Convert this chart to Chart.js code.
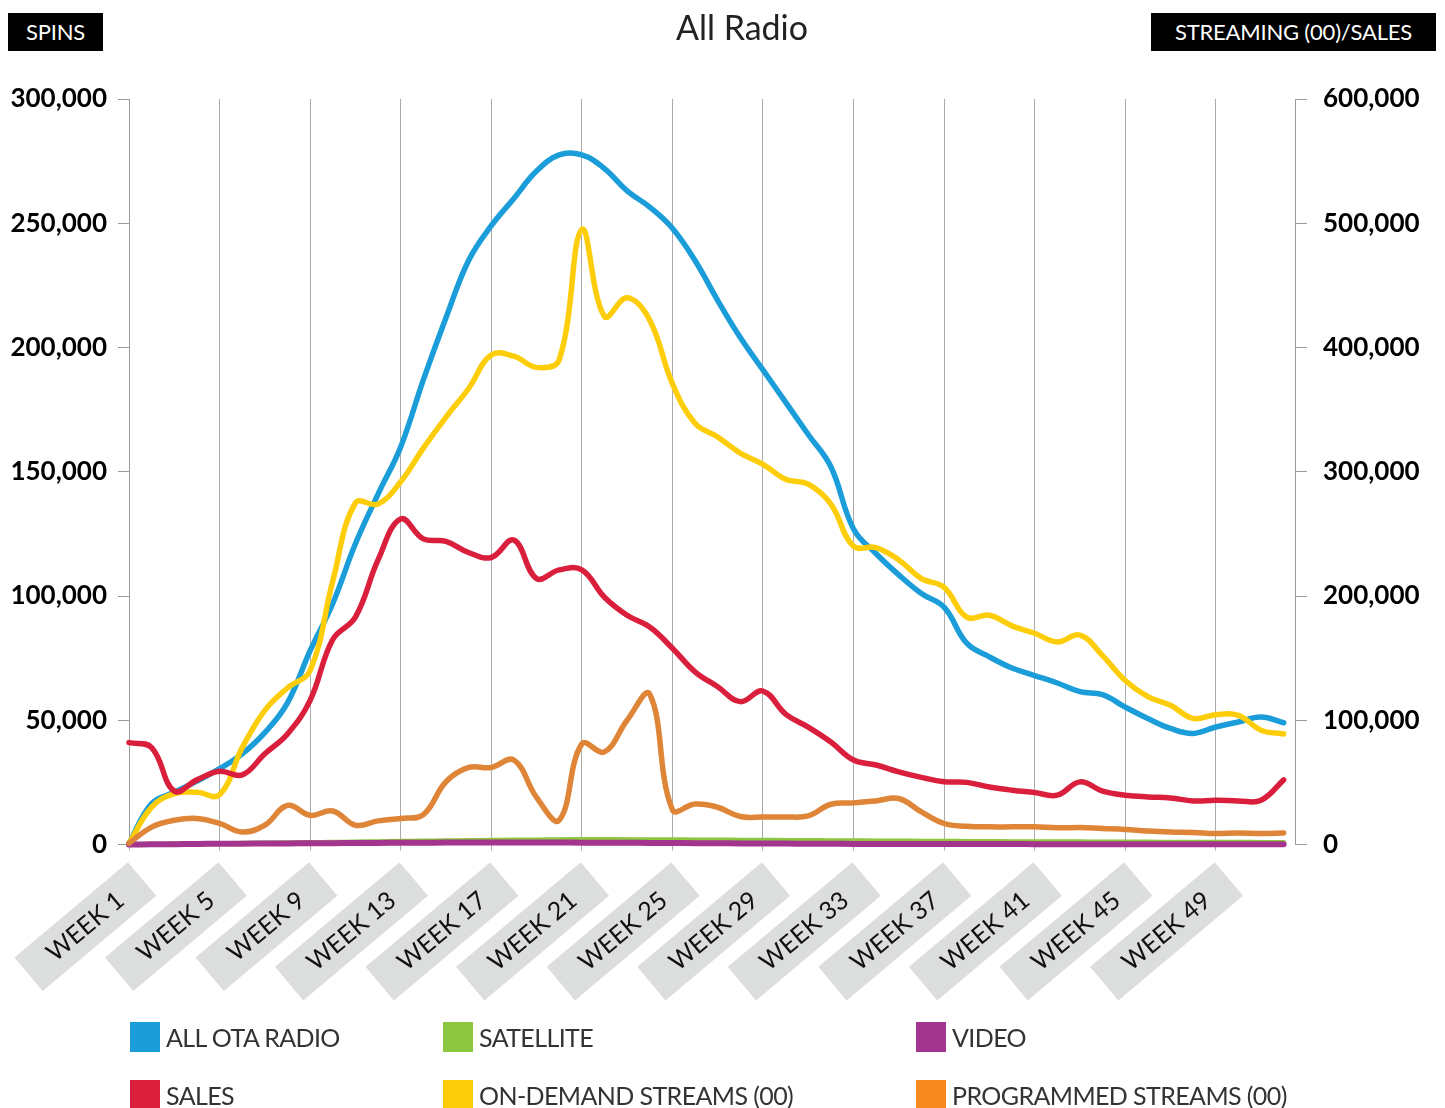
<!DOCTYPE html>
<html>
<head>
<meta charset="utf-8">
<script src="https://cdn.jsdelivr.net/npm/chart.js@4.4.0/dist/chart.umd.min.js"></script>
<style>
  html, body { margin: 0; padding: 0; background: #fff; }
  #wrap { position: relative; width: 1445px; height: 1108px; overflow: hidden; font-family: Lato, sans-serif; }
  canvas { position: absolute; left: 0; top: 0; }
  .tag { position: absolute; background: #000; color: #fff; font-size: 22px; line-height: 38px; height: 38px; text-align: center; letter-spacing: -0.2px; }
  #title { position: absolute; top: 6px; left: 592px; width: 300px; text-align: center; font-size: 34px; line-height: 42px; color: #222; }
  .li { position: absolute; height: 30px; display: flex; align-items: center; white-space: nowrap; }
  .sw { width: 30px; height: 30px; margin-right: 6px; flex: none; }
  .lt { font-size: 25px; color: #333; letter-spacing: -0.6px; }
</style>
</head>
<body>
<div id="wrap">
  <canvas id="c" width="1445" height="1108"></canvas>
  <div class="tag" style="left:8px;top:13px;width:95px;">SPINS</div>
  <div class="tag" style="left:1151px;top:13px;width:285px;">STREAMING (00)/SALES</div>
  <div id="title">All Radio</div>
  <div id="legend"></div>
</div>
<script>
// ---- categories ----
const weeks = [1,2,3,4,5,6,7,8,9,10,11,12,13,14,15,16,17,18,19,20,21,22,23,24,25,26,
               27,28,29,30,31,32,33,34,35,36,37,38,39,40,41,42,43,44,45,46,47,48,49,50,51,52];
const weekTickValues = [1,5,9,13,17,21,25,29,33,37,41,45,49];
const weekTickLabels = ['WEEK 1','WEEK 5','WEEK 9','WEEK 13','WEEK 17','WEEK 21','WEEK 25',
                        'WEEK 29','WEEK 33','WEEK 37','WEEK 41','WEEK 45','WEEK 49'];

// ---- spins (left axis) ----
const allOtaRadio = [500,16500,21000,25500,30500,36500,45000,57000,78000,97000,121000,141000,160000,
  187000,212000,235000,249000,260000,271000,277500,277500,272000,263000,256500,248000,235000,
  219000,204000,191000,178000,165000,152000,127000,117000,108500,101000,95500,81000,75500,
  71000,68000,65000,61500,60300,55300,50700,46700,44700,47300,49300,51300,49000];
const satellite = [0,100,200,300,400,500,600,700,800,900,1000,1150,1300,1400,1500,1600,1700,1780,
  1850,1920,2000,1980,1950,1920,1900,1850,1800,1750,1700,1650,1600,1550,1500,1450,1400,1350,
  1300,1250,1200,1150,1100,1080,1060,1040,1000,970,940,920,900,870,840,800];
const video = [0,80,150,220,300,350,400,450,500,550,600,650,700,730,760,780,800,790,780,770,750,
  720,690,650,600,550,500,450,400,360,320,280,250,240,230,210,200,190,170,160,150,140,130,125,
  120,115,110,105,100,100,100,100];

// ---- streaming (00) / sales (right axis) ----
const sales = [82000,78000,43000,52000,59000,56000,73000,89000,116000,165000,183000,229000,262000,
  246000,244000,235000,231000,245000,214000,221000,221000,199000,184500,175000,158000,139000,
  127000,115000,123500,105000,94500,82500,68000,64000,58500,54000,50500,50000,46300,43700,
  41800,39700,50400,43000,39700,38300,37500,35100,35600,35100,35600,52000];
const onDemandStreams = [1000,30000,41000,42000,40000,78000,108000,126000,140000,212000,275000,274000,
  292000,319000,344000,367000,394000,393000,384000,390000,495000,425000,440000,422000,371000,
  339000,328000,315000,306000,294000,290000,274000,240000,239000,229000,214000,207000,183000,
  184500,176000,170000,163000,168500,152000,132000,119000,112000,101500,104500,104000,92000,89000];
const programmedStreams = [1000,14000,19500,21000,17000,10000,15500,31500,23500,27000,15500,19000,
  21000,24000,50500,62000,62000,68000,38000,19500,81000,74500,100000,121000,28000,32500,30000,
  22500,22200,22200,23000,32400,33500,35100,37000,26200,16900,14700,14200,14200,14200,13400,
  13700,12900,12100,10900,10100,9700,8800,9300,8800,9300];

function series(label, data, lineColor, swatchColor, axis, order, width) {
  return {
    label, data, yAxisID: axis, order,
    borderColor: lineColor, backgroundColor: swatchColor,
    borderWidth: width, pointRadius: 0, pointHoverRadius: 0, tension: 0.4,
    borderCapStyle: 'round', borderJoinStyle: 'round', fill: false, clip: false
  };
}

const datasets = [
  series('ALL OTA RADIO', allOtaRadio, '#1b9dd9', '#1b9dd9', 'y', 6, 5.5),
  series('SATELLITE', satellite, '#8dc63f', '#8dc63f', 'y', 5, 5),
  series('VIDEO', video, '#a3358f', '#a3358f', 'y', 3, 6),
  series('SALES', sales, '#da1f3d', '#da1f3d', 'y2', 2, 5.5),
  series('ON-DEMAND STREAMS (00)', onDemandStreams, '#fecd0a', '#fecd0a', 'y2', 4, 5.5),
  series('PROGRAMMED STREAMS (00)', programmedStreams, '#df8538', '#f6891f', 'y2', 1, 5.5)
];

const CHART_BOTTOM = 844.5;
const fmt = v => Number(v).toLocaleString('en-US');

const chart = new Chart(document.getElementById('c'), {
  type: 'line',
  data: { labels: weeks, datasets },
  options: {
    responsive: false,
    animation: false,
    devicePixelRatio: 1,
    layout: { padding: { top: 99, left: 0, right: 0, bottom: 0 } },
    plugins: { legend: { display: false }, tooltip: { enabled: false }, title: { display: false } },
    scales: {
      x: {
        type: 'linear', min: 1, max: 52.5,
        afterBuildTicks: s => { s.ticks = weekTickValues.map(v => ({ value: v })); },
        afterFit: s => { s.height = 1108 - CHART_BOTTOM; s.paddingLeft = 0; s.paddingRight = 0; },
        grid: { color: '#ababab', lineWidth: 1, drawTicks: true, tickLength: 6, tickColor: '#ababab' },
        border: { display: false },
        ticks: {
          autoSkip: false, minRotation: 40, maxRotation: 40,
          labelOffset: -18, padding: 35,
          font: { family: 'Lato', size: 25 }, color: '#111',
          showLabelBackdrop: true, backdropColor: '#dcdddd',
          backdropPadding: { top: 7, bottom: 7, left: 28, right: 28 },
          callback: (v, i) => weekTickLabels[i]
        }
      },
      y: {
        position: 'left', min: 0, max: 300000,
        afterFit: s => { s.width = 129; },
        grid: { drawOnChartArea: false, drawTicks: true, tickLength: 11, color: '#9a9a9a' },
        border: { display: true, color: '#9a9a9a', width: 1 },
        ticks: { stepSize: 50000, padding: 11, color: '#000',
                 font: { family: 'Lato', size: 26, weight: 'bold' }, callback: fmt }
      },
      y2: {
        position: 'right', min: 0, max: 600000,
        afterFit: s => { s.width = 150; },
        grid: { drawOnChartArea: false, drawTicks: true, tickLength: 12, color: '#9a9a9a' },
        border: { display: true, color: '#9a9a9a', width: 1 },
        ticks: { stepSize: 100000, padding: 16, color: '#000',
                 font: { family: 'Lato', size: 26, weight: 'bold' }, callback: fmt }
      }
    }
  }
});

// HTML legend built from the chart's datasets
const legendCols = [130, 443, 916];
const legendRows = [1022, 1080];
const legendEl = document.getElementById('legend');
chart.data.datasets.forEach((ds, i) => {
  const item = document.createElement('div');
  item.className = 'li';
  item.style.left = legendCols[i % 3] + 'px';
  item.style.top = legendRows[Math.floor(i / 3)] + 'px';
  const sw = document.createElement('span');
  sw.className = 'sw';
  sw.style.background = ds.backgroundColor;
  const tx = document.createElement('span');
  tx.className = 'lt';
  tx.textContent = ds.label;
  item.appendChild(sw); item.appendChild(tx);
  legendEl.appendChild(item);
});
</script>
</body>
</html>
